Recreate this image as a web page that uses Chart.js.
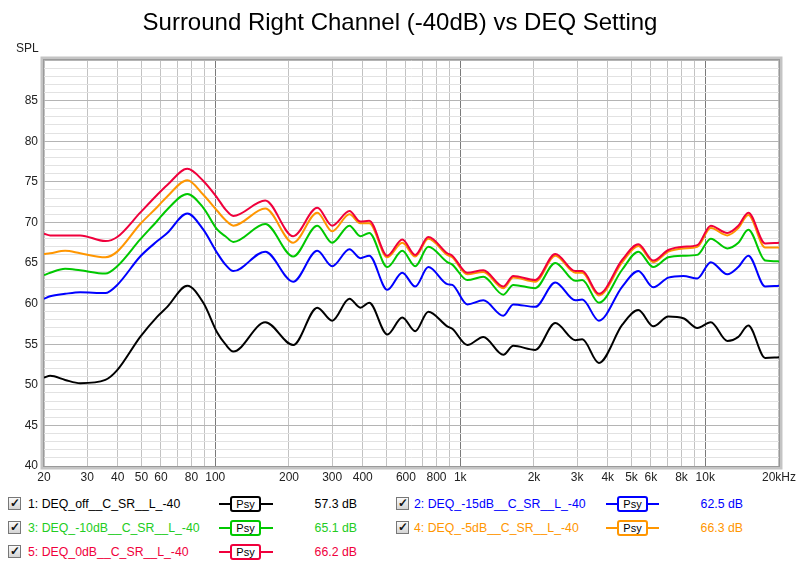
<!DOCTYPE html>
<html>
<head>
<meta charset="utf-8">
<script src="https://cdn.jsdelivr.net/npm/chart.js@4.4.0/dist/chart.umd.min.js"></script>
<style>
body { margin: 0; background: #fff; font-family: "Liberation Sans", Arial, sans-serif; }
#wrap { position: relative; width: 800px; height: 566px; overflow: hidden; }
#grafica { position: absolute; left: 0; top: 0; }
#titulo { position: absolute; top: 7px; left: 0; width: 800px; text-align: center; font-size: 24px; line-height: 30px; color: #000; }
#spl { position: absolute; left: 16px; top: 41px; font-size: 12px; color: #222; }
.check { position: absolute; width: 11px; height: 11px; border: 1px solid #777; background: linear-gradient(#fafafa, #d4d4d4);
  font-size: 12px; line-height: 11px; text-align: center; font-weight: bold; color: #111; }
.nombre { position: absolute; font-size: 12.3px; white-space: nowrap; line-height: 16px; }
.linea { position: absolute; height: 2px; }
.psy { position: absolute; width: 27px; height: 12px; background: #fff; border: 2px solid; border-radius: 3px;
  font-size: 11px; line-height: 12px; text-align: center; color: #000; }
.valor { position: absolute; width: 80px; text-align: right; font-size: 12.3px; line-height: 16px; }
</style>
</head>
<body>
<div id="wrap">
  <canvas id="grafica" width="800" height="490"></canvas>
  <div id="titulo">Surround Right Channel (-40dB) vs DEQ Setting</div>
  <div id="spl">SPL</div>
  <div id="leyenda"></div>
</div>
<script>
// frecuencias (Hz) donde se leyeron los valores
const frecuencias = [20, 21.2, 24.4, 28.1, 35.6, 39.8, 49.4, 58, 63.7, 76.9, 89.4, 102, 110, 118.5, 160, 208, 261, 300, 353, 391, 425, 504, 580, 655, 741, 885, 928, 1069, 1242, 1499, 1646, 2024, 2443, 2950, 3148, 3680, 4586, 5333, 6138, 7068, 8138, 9283, 10534, 12304, 13646, 14988, 17580, 20000];

const deqOff = [50.9, 51.1, 50.6, 50.2, 50.6, 51.8, 55.9, 58.4, 59.6, 62.2, 60.1, 56.4, 55.0, 54.1, 57.7, 54.9, 59.5, 57.9, 60.6, 59.5, 60.1, 56.2, 58.3, 56.6, 59.0, 57.2, 56.9, 54.9, 55.9, 53.7, 54.8, 54.3, 57.6, 55.5, 55.6, 52.7, 57.4, 59.2, 57.2, 58.4, 58.2, 57.0, 57.7, 55.4, 55.9, 57.3, 53.3, 53.4];
const deq15 = [60.6, 60.9, 61.2, 61.4, 61.3, 62.3, 65.8, 67.7, 68.7, 71.1, 69.1, 66.2, 64.8, 64.0, 66.4, 62.7, 66.5, 64.6, 66.7, 65.6, 65.9, 61.7, 63.8, 62.1, 64.5, 62.4, 62.3, 59.9, 60.4, 58.5, 59.9, 59.6, 62.6, 60.4, 60.5, 57.9, 62.1, 64.0, 62.0, 63.2, 63.4, 63.1, 65.1, 63.6, 64.5, 65.9, 62.1, 62.2];
const deq10 = [63.5, 63.8, 64.3, 64.1, 63.7, 64.6, 67.9, 70.2, 71.6, 73.5, 71.8, 69.1, 68.3, 67.6, 69.8, 65.8, 69.6, 67.5, 69.6, 68.3, 68.7, 64.5, 66.5, 64.6, 67.0, 65.1, 64.8, 62.9, 63.3, 61.1, 62.3, 61.9, 65.0, 62.8, 62.9, 60.1, 64.2, 66.4, 64.5, 65.7, 65.9, 66.0, 68.0, 66.8, 67.5, 69.1, 65.3, 65.2];
const deq5 = [66.1, 66.2, 66.5, 66.2, 65.7, 66.4, 69.8, 71.9, 73.2, 75.2, 73.4, 71.4, 70.3, 69.6, 71.7, 67.5, 71.2, 68.9, 71.0, 69.9, 69.9, 65.7, 67.5, 65.8, 68.0, 66.0, 65.7, 63.6, 63.9, 61.9, 63.2, 62.7, 65.9, 63.8, 63.8, 61.0, 65.1, 67.1, 65.1, 66.4, 66.8, 67.0, 69.3, 68.4, 69.3, 70.9, 66.9, 66.9];
const deq0 = [68.6, 68.4, 68.4, 68.4, 67.7, 68.2, 71.2, 73.4, 74.6, 76.6, 75.1, 73.0, 71.6, 70.8, 72.7, 68.3, 71.8, 69.6, 71.4, 70.1, 70.2, 65.9, 67.9, 66.0, 68.2, 66.2, 65.9, 63.8, 64.1, 62.1, 63.4, 62.9, 66.1, 64.0, 64.0, 61.2, 65.4, 67.3, 65.3, 66.6, 67.0, 67.2, 69.6, 68.7, 69.6, 71.2, 67.4, 67.5];

const ticksX = [20, 30, 40, 50, 60, 70, 80, 90, 100, 200, 300, 400, 500, 600, 700, 800, 900, 1000, 2000, 3000, 4000, 5000, 6000, 7000, 8000, 9000, 10000, 20000];
const etiquetasX = { 20: '20', 30: '30', 40: '40', 50: '50', 60: '60', 80: '80', 100: '100', 200: '200', 300: '300', 400: '400', 600: '600', 800: '800', 1000: '1k', 2000: '2k', 3000: '3k', 4000: '4k', 5000: '5k', 6000: '6k', 8000: '8k', 10000: '10k', 20000: '20kHz' };

const nombres = ['1: DEQ_off__C_SR__L_-40', '2: DEQ_-15dB__C_SR__L_-40', '3: DEQ_-10dB__C_SR__L_-40', '4: DEQ_-5dB__C_SR__L_-40', '5: DEQ_0dB__C_SR__L_-40'];
const niveles = ['57.3 dB', '62.5 dB', '65.1 dB', '66.3 dB', '66.2 dB'];
const colores = ['#000000', '#0000ff', '#00c800', '#ff9600', '#f0003c'];
const coloresTexto = ['#000000', '#0000ff', '#22cc22', '#ff9600', '#f0003c'];
const series = [deqOff, deq15, deq10, deq5, deq0];

function puntos(valores) {
    return frecuencias.map((f, i) => ({ x: f, y: valores[i] }));
}

// marco gris alrededor del area de la grafica
const marco = {
    id: 'marco',
    beforeDatasetsDraw(chart) {
        const a = chart.chartArea;
        const ctx = chart.ctx;
        ctx.save();
        ctx.strokeStyle = '#c4c4c4';
        ctx.lineWidth = 3;
        ctx.strokeRect(a.left - 2, a.top - 2, a.right - a.left + 4, a.bottom - a.top + 4);
        ctx.strokeStyle = '#9a9a9a';
        ctx.lineWidth = 1;
        ctx.strokeRect(a.left - 0.5, a.top - 0.5, a.right - a.left + 1, a.bottom - a.top + 1);
        ctx.restore();
    }
};

const chart = new Chart(document.getElementById('grafica'), {
    type: 'line',
    data: {
        datasets: series.map((s, i) => ({
            label: nombres[i],
            data: puntos(s),
            borderColor: colores[i],
            borderWidth: 2,
            pointRadius: 0,
            cubicInterpolationMode: 'monotone',
            fill: false,
            order: 5 - i
        }))
    },
    options: {
        responsive: false,
        animation: false,
        layout: { padding: { top: 60, right: 21, left: 0, bottom: 0 } },
        plugins: {
            legend: { display: false },
            title: { display: false },
            tooltip: { enabled: false }
        },
        scales: {
            x: {
                type: 'logarithmic',
                min: 20,
                max: 20000,
                afterBuildTicks: function (scale) {
                    scale.ticks = ticksX.map(v => ({ value: v }));
                },
                afterFit: function (scale) { scale.height = 24; },
                ticks: {
                    autoSkip: false,
                    maxRotation: 0,
                    padding: 4,
                    color: '#222',
                    font: { family: '"Liberation Sans", Arial', size: 12 },
                    callback: function (v) { return etiquetasX[v] || ''; }
                },
                grid: {
                    drawTicks: false,
                    color: function (c) {
                        const v = c.tick.value;
                        return (v === 100 || v === 1000 || v === 10000) ? '#7a7a7a' : '#c2c2c2';
                    },
                    lineWidth: 1
                },
                border: { display: false }
            },
            y: {
                min: 40,
                max: 90,
                afterFit: function (scale) { scale.width = 44; },
                ticks: {
                    stepSize: 1,
                    autoSkip: false,
                    padding: 6,
                    color: '#222',
                    font: { family: '"Liberation Sans", Arial', size: 12 },
                    callback: function (v) { return (v % 5 === 0 && v !== 90) ? v : ''; }
                },
                grid: {
                    drawTicks: false,
                    color: function (c) {
                        return c.tick.value % 5 === 0 ? '#b4b4b4' : '#e2e2e2';
                    },
                    lineWidth: 1
                },
                border: { display: false }
            }
        }
    },
    plugins: [marco]
});

// leyenda inferior
const posLeyenda = [
    { col: 0, fila: 0 }, { col: 1, fila: 0 },
    { col: 0, fila: 1 }, { col: 1, fila: 1 },
    { col: 0, fila: 2 }
];
const columnas = [
    { check: 8, nombre: 28, linea: 219, anchoLinea: 54, psy: 230, valor: 277 },
    { check: 396, nombre: 414, linea: 606, anchoLinea: 53, psy: 617, valor: 663 }
];
const leyenda = document.getElementById('leyenda');
posLeyenda.forEach((p, i) => {
    const c = columnas[p.col];
    const yc = 504 + p.fila * 24;
    const html =
        '<div class="check" style="left:' + c.check + 'px;top:' + (yc - 7) + 'px">\u2713</div>' +
        '<div class="nombre" style="left:' + c.nombre + 'px;top:' + (yc - 8) + 'px;color:' + coloresTexto[i] + '">' + nombres[i] + '</div>' +
        '<div class="linea" style="left:' + c.linea + 'px;top:' + (yc - 1) + 'px;width:' + c.anchoLinea + 'px;background:' + colores[i] + '"></div>' +
        '<div class="psy" style="left:' + c.psy + 'px;top:' + (yc - 8) + 'px;border-color:' + colores[i] + '">Psy</div>' +
        '<div class="valor" style="left:' + c.valor + 'px;top:' + (yc - 8) + 'px;color:' + coloresTexto[i] + '">' + niveles[i] + '</div>';
    leyenda.insertAdjacentHTML('beforeend', html);
});
</script>
</body>
</html>
